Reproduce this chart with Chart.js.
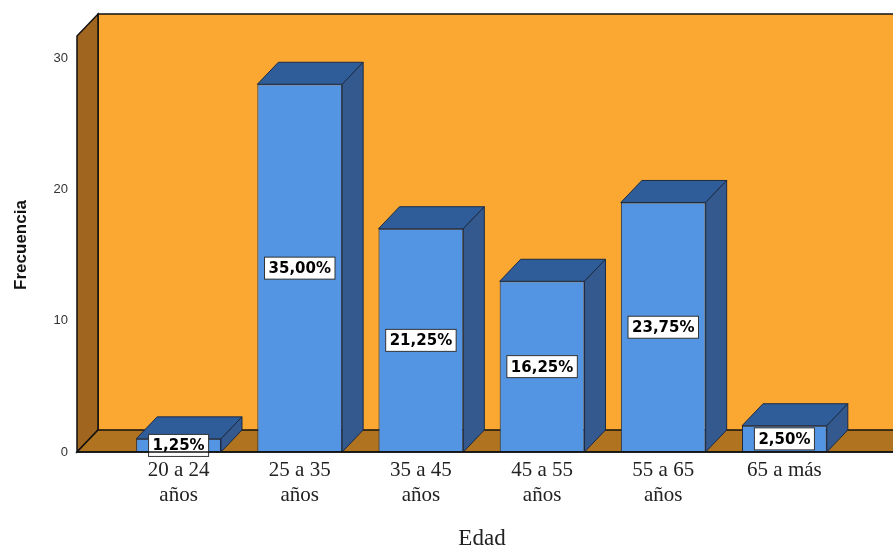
<!DOCTYPE html>
<html>
<head>
<meta charset="utf-8">
<script src="https://cdn.jsdelivr.net/npm/chart.js@4"></script>
<style>
  html, body { margin: 0; padding: 0; background: #fff; }
  #wrap { width: 893px; height: 547px; }
</style>
</head>
<body>
<div id="wrap"><canvas id="edad-chart" width="893" height="547"></canvas></div>
<script>
const ageLabels = [
  ["20 a 24", "años"],
  ["25 a 35", "años"],
  ["35 a 45", "años"],
  ["45 a 55", "años"],
  ["55 a 65", "años"],
  ["65 a más"],
];
const frequencies = [1, 28, 17, 13, 19, 2];
const percentLabels = ["1,25%", "35,00%", "21,25%", "16,25%", "23,75%", "2,50%"];
const yTicks = [0, 10, 20, 30];

const DX = 21, DY = 22; // depth of the 3D effect

const backdrop = {
  id: "backdrop",
  beforeDatasetsDraw(chart) {
    const ctx = chart.ctx;
    const y = chart.scales.y;
    const base = y.getPixelForValue(0);
    const left = chart.chartArea.left - 41;
    const top = 14;
    const right = chart.width + 5;
    ctx.save();
    ctx.lineWidth = 1.5;
    ctx.strokeStyle = "#111";
    // back wall
    ctx.fillStyle = "#fba832";
    ctx.fillRect(left + DX, top, right - left - DX, base - DY - top);
    ctx.beginPath();
    ctx.moveTo(right, top);
    ctx.lineTo(left + DX, top);
    ctx.lineTo(left + DX, base - DY);
    ctx.stroke();
    // left wall
    ctx.fillStyle = "#a0661f";
    ctx.beginPath();
    ctx.moveTo(left, top + DY);
    ctx.lineTo(left + DX, top);
    ctx.lineTo(left + DX, base - DY);
    ctx.lineTo(left, base);
    ctx.closePath();
    ctx.fill();
    ctx.stroke();
    // floor
    ctx.fillStyle = "#b0731f";
    ctx.beginPath();
    ctx.moveTo(left, base);
    ctx.lineTo(left + DX, base - DY);
    ctx.lineTo(right, base - DY);
    ctx.lineTo(right, base);
    ctx.closePath();
    ctx.fill();
    ctx.stroke();
    ctx.restore();
  },
  afterDatasetsDraw(chart) {
    const ctx = chart.ctx;
    const meta = chart.getDatasetMeta(0);
    ctx.save();
    ctx.lineWidth = 1;
    meta.data.forEach((bar, i) => {
      const p = bar.getProps(["x", "y", "base", "width"], true);
      const l = p.x - p.width / 2, r = p.x + p.width / 2;
      ctx.strokeStyle = "#1b2b45";
      // top face
      ctx.fillStyle = "#2f5d99";
      ctx.beginPath();
      ctx.moveTo(l, p.y);
      ctx.lineTo(l + DX, p.y - DY);
      ctx.lineTo(r + DX, p.y - DY);
      ctx.lineTo(r, p.y);
      ctx.closePath();
      ctx.fill();
      ctx.stroke();
      // side face
      ctx.fillStyle = "#33598e";
      ctx.beginPath();
      ctx.moveTo(r, p.y);
      ctx.lineTo(r + DX, p.y - DY);
      ctx.lineTo(r + DX, p.base - DY);
      ctx.lineTo(r, p.base);
      ctx.closePath();
      ctx.fill();
      ctx.stroke();
      // percentage label
      ctx.font = "bold 15px 'DejaVu Sans'";
      const txt = percentLabels[i];
      const w = ctx.measureText(txt).width + 8;
      const cy = (p.y + p.base) / 2;
      ctx.fillStyle = "#fff";
      ctx.fillRect(p.x - w / 2, cy - 11, w, 22);
      ctx.strokeStyle = "#333";
      ctx.strokeRect(p.x - w / 2, cy - 11, w, 22);
      ctx.fillStyle = "#000";
      ctx.textAlign = "center";
      ctx.textBaseline = "middle";
      ctx.fillText(txt, p.x, cy + 1);
    });
    // front floor edge
    const base = chart.scales.y.getPixelForValue(0);
    ctx.strokeStyle = "#111";
    ctx.lineWidth = 1.5;
    ctx.beginPath();
    ctx.moveTo(chart.chartArea.left - 41, base);
    ctx.lineTo(chart.width, base);
    ctx.stroke();
    ctx.restore();
  },
  afterDraw(chart) {
    const ctx = chart.ctx;
    const x = chart.scales.x, y = chart.scales.y;
    ctx.save();
    // y tick labels
    ctx.font = "13px 'Liberation Sans'";
    ctx.fillStyle = "#333";
    ctx.textAlign = "right";
    ctx.textBaseline = "middle";
    yTicks.forEach((t) => ctx.fillText(String(t), 68, y.getPixelForValue(t)));
    // category labels
    ctx.font = "21px 'Liberation Serif'";
    ctx.fillStyle = "#222";
    ctx.textAlign = "center";
    ctx.textBaseline = "alphabetic";
    ageLabels.forEach((lines, i) => {
      const cx = x.getPixelForValue(i);
      lines.forEach((ln, j) => ctx.fillText(ln, cx, 476 + j * 25));
    });
    // axis titles
    ctx.font = "23px 'Liberation Serif'";
    ctx.fillText("Edad", 482, 545);
    ctx.translate(26, 245);
    ctx.rotate(-Math.PI / 2);
    ctx.font = "bold 17px 'Liberation Sans'";
    ctx.fillStyle = "#111";
    ctx.fillText("Frecuencia", 0, 0);
    ctx.restore();
  },
};

new Chart(document.getElementById("edad-chart"), {
  type: "bar",
  data: {
    labels: ageLabels,
    datasets: [
      {
        data: frequencies,
        backgroundColor: "#5394e3",
        borderColor: "#1b2b45",
        borderWidth: 1,
        borderSkipped: false,
        categoryPercentage: 1,
        barPercentage: 0.7,
      },
    ],
  },
  options: {
    responsive: false,
    animation: false,
    layout: { padding: { left: 118, right: 48, top: 58, bottom: 95 } },
    plugins: { legend: { display: false }, tooltip: { enabled: false } },
    scales: {
      x: { display: false },
      y: { display: false, min: 0, max: 30 },
    },
  },
  plugins: [backdrop],
});
</script>
</body>
</html>
